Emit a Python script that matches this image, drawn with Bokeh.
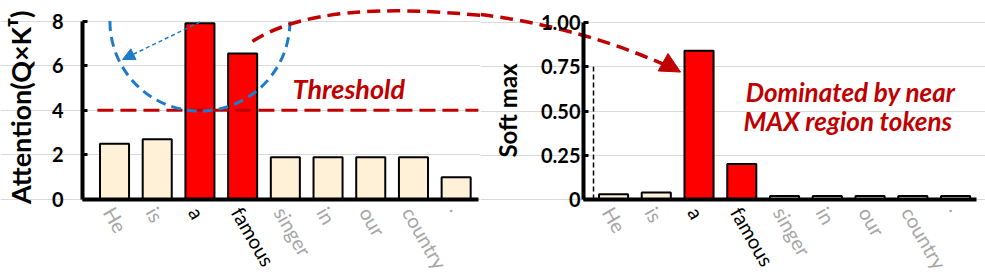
import math
from bokeh.plotting import figure
from bokeh.layouts import row
from bokeh.models import (Range1d, FixedTicker, Label, LabelSet, ColumnDataSource,
                          Arrow, NormalHead)
from bokeh.core.properties import value
from bokeh.embed import file_html
from bokeh.resources import INLINE

# ---------------- data ----------------
tokens = ["He", "is", "a", "famous", "singer", "in", "our", "country", "."]
attention = [2.5, 2.7, 7.9, 6.55, 1.9, 1.9, 1.9, 1.9, 1.0]
softmax = [0.03, 0.04, 0.84, 0.20, 0.02, 0.02, 0.02, 0.02, 0.02]
highlight = [False, False, True, True, False, False, False, False, False]
threshold = 4
attn_ticks = [0, 2, 4, 6, 8]
soft_ticks = [0, 0.25, 0.5, 0.75, 1.0]
soft_tick_labels = ["0", "0.25", "0.50", "0.75", "1.00"]

# ---------------- style ----------------
FONT = "Lato"
RED = "#FF0000"
CREAM = "#FFF1D8"
DARKRED = "#C00000"
BLUE = "#1F7BC9"
GRAY_TXT = "#A6A6A6"
GRID = "#D9D9D9"

idx = list(range(len(tokens)))
bar_colors = [RED if h else CREAM for h in highlight]
label_colors = ["black" if h else GRAY_TXT for h in highlight]


def make_fig(width, xr, yr, yloc, ticks, ybounds, xend, standoff):
    p = figure(width=width, height=276, x_range=Range1d(*xr), y_range=Range1d(*yr),
               output_backend="svg", toolbar_location=None,
               min_border_left=0, min_border_right=0, min_border_top=0, min_border_bottom=0)
    p.outline_line_color = None
    p.xgrid.visible = False
    p.ygrid.ticker = FixedTicker(ticks=ticks)
    p.ygrid.grid_line_color = GRID
    p.ygrid.grid_line_width = 1
    p.ygrid.bounds = (yloc, xend - 0.05)
    for ax in p.xaxis:
        ax.fixed_location = 0
        ax.bounds = (yloc, xend)
        ax.ticker = FixedTicker(ticks=[])
        ax.axis_line_width = 4
        ax.axis_line_color = "black"
        ax.major_tick_line_color = None
        ax.minor_tick_line_color = None
        ax.major_label_text_font_size = "0px"
    for ax in p.yaxis:
        ax.fixed_location = yloc
        ax.ticker = FixedTicker(ticks=ticks)
        ax.bounds = ybounds
        ax.axis_line_width = 4
        ax.axis_line_color = "black"
        ax.major_tick_out = 0
        ax.major_tick_in = 5
        ax.major_tick_line_width = 3
        ax.minor_tick_line_color = None
        ax.major_label_text_font = FONT
        ax.major_label_text_font_style = "bold"
        ax.major_label_text_font_size = "20px"
        ax.major_label_text_color = "black"
        ax.major_label_standoff = standoff
    src = ColumnDataSource(dict(x=idx, y=[0] * len(idx), text=tokens, color=label_colors))
    p.add_layout(LabelSet(x="x", y="y", text="text", source=src, angle=-60, angle_units="deg",
                          text_color="color", text_font=value(FONT), text_font_size=value("20px"),
                          text_align="left", text_baseline="top", x_offset=5, y_offset=-3))
    return p


def red_text(x, y, text, size):
    return Label(x=x, y=y, text=text, text_color=DARKRED, text_font=FONT,
                 text_font_size=size, text_font_style="bold italic", text_baseline="middle")


# ---------------- left panel ----------------
p1 = make_fig(480, (-2.67, 8.57), (-3.453, 8.924), -0.749, attn_ticks, (0, 8), 8.52, 19)
p1.add_layout(Label(x=-2.2, y=4.13, text="Attention(Q×Kᵀ)", angle=90, angle_units="deg",
                    text_font=FONT, text_font_style="bold", text_font_size="27px",
                    text_align="center", text_baseline="middle", text_color="black"))

p1.vbar(x=idx, top=attention, width=0.68, fill_color=bar_colors, line_color="black", line_width=2)

# threshold line
p1.line(x=[-0.4, 8.52], y=[threshold, threshold], line_color=DARKRED, line_width=3, line_dash="16 7")
p1.add_layout(red_text(4.17, 4.98, "Threshold", "27px"))

# blue dashed arc and arrow
p1.arc(x=[2], y=[8], radius=90, radius_units="screen", start_angle=math.pi, end_angle=2 * math.pi,
       line_color=BLUE, line_width=3, line_dash="10 6")
p1.add_layout(Arrow(x_start=2.0, y_start=7.96, x_end=0.19, y_end=6.28, line_color=BLUE,
                    line_width=1.5, line_dash="4 3",
                    end=NormalHead(size=12, fill_color=BLUE, line_color=BLUE)))

# red curved arrow (left part)
p1.bezier(x0=[3.23], y0=[7.09], x1=[8.6], y1=[8.25], cx0=[4.36], cy0=[8.48], cx1=[6.23], cy1=[8.70],
          line_color=DARKRED, line_width=3.5, line_dash="13 7")

# ---------------- right panel ----------------
p2 = make_fig(505, (-3.111, 8.70), (-0.435, 1.1243), -0.702, soft_ticks, (0, 1), 8.49, 3)
p2.yaxis.major_label_overrides = dict(zip(soft_ticks, soft_tick_labels))
p2.add_layout(Label(x=-2.48, y=0.503, text="Soft max", angle=90, angle_units="deg",
                    text_font=FONT, text_font_style="bold", text_font_size="24px",
                    text_align="center", text_baseline="middle", text_color="black"))

p2.vbar(x=idx, top=softmax, width=0.68, fill_color=bar_colors, line_color="black", line_width=2)
p2.line(x=[-0.468, -0.468], y=[0, 0.75], line_color="black", line_width=1.5, line_dash="5 3")

p2.add_layout(red_text(3.09, 0.605, "Dominated by near", "26px"))
p2.add_layout(red_text(3.04, 0.441, "MAX region tokens", "26px"))

# red curved arrow (right part)
p2.bezier(x0=[-3.111], y0=[1.045], x1=[1.333], y1=[0.746], cx0=[-1.942], cy0=[1.011],
          cx1=[-0.304], cy1=[0.927], line_color=DARKRED, line_width=3.5, line_dash="13 7")
p2.add_layout(Arrow(x_start=1.20, y_start=0.77, x_end=1.567, y_end=0.720, line_alpha=0,
                    end=NormalHead(size=20, fill_color=DARKRED, line_color=DARKRED)))

layout = row(p1, p2)
open("out.html", "w").write(file_html(layout, INLINE))
